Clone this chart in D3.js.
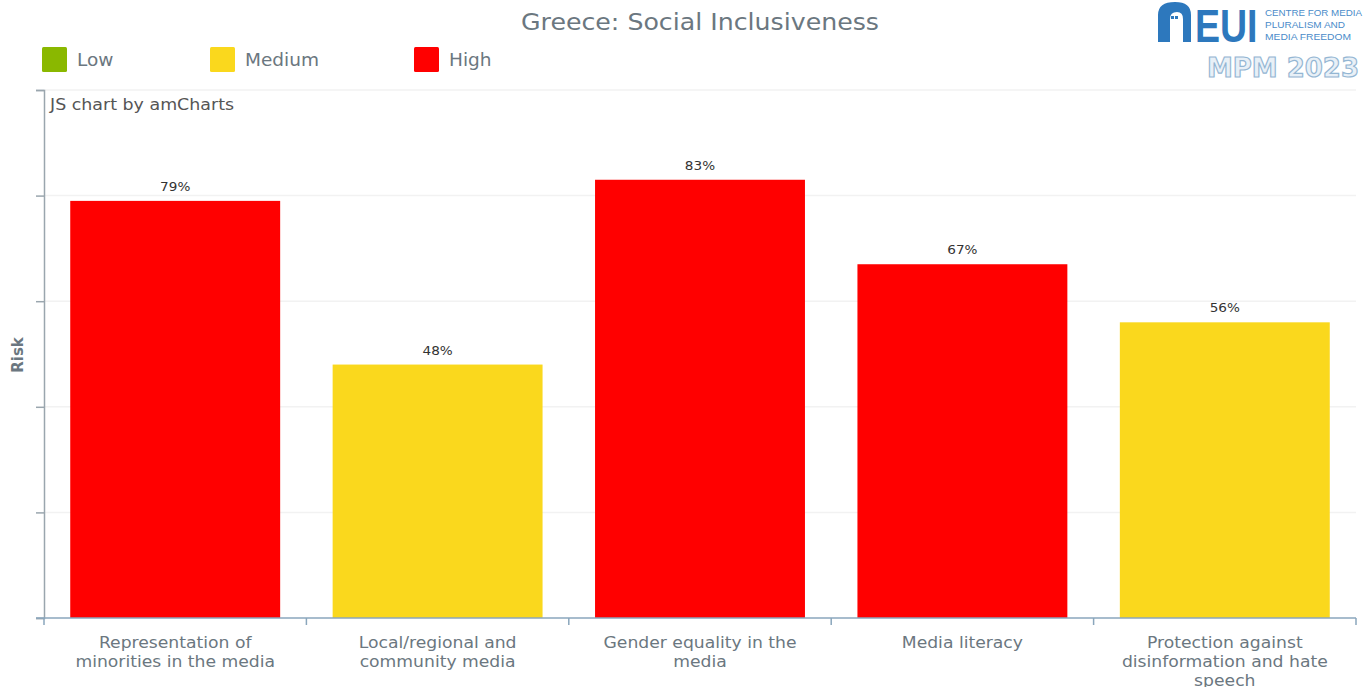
<!DOCTYPE html>
<html>
<head>
<meta charset="utf-8">
<script src="https://cdn.jsdelivr.net/npm/d3@7"></script>
<style>
  html, body { margin: 0; padding: 0; background: #fff; }
  svg { display: block; font-family: "DejaVu Sans", Verdana, sans-serif; }
</style>
</head>
<body>
<svg id="chart" width="1366" height="687"></svg>
<script>
// Indicator categories and their risk scores (%)
const categories = [
  "Representation of minorities in the media",
  "Local/regional and community media",
  "Gender equality in the media",
  "Media literacy",
  "Protection against disinformation and hate speech"
];
const riskValues = [79, 48, 83, 67, 56];
const riskLevels = ["High", "Medium", "High", "High", "Medium"];
const legendLevels = ["Low", "Medium", "High"];
const levelColors = ["#8ab800", "#fad81d", "#ff0000"];
const yTicks = [0, 20, 40, 60, 80, 100];
// Wrapped label lines for each category
const labelLines = [
  ["Representation of", "minorities in the media"],
  ["Local/regional and", "community media"],
  ["Gender equality in the", "media"],
  ["Media literacy"],
  ["Protection against", "disinformation and hate", "speech"]
];

const svg = d3.select("#chart");
const margin = { left: 44, right: 10, top: 90, bottom: 69 };
const W = 1366, H = 687;
const WIDE = 1.09; // horizontal widening so DejaVu reads like a wide humanist face

const color = d3.scaleOrdinal().domain(legendLevels).range(levelColors);

const x = d3.scaleBand()
  .domain(categories)
  .range([margin.left, W - margin.right])
  .paddingInner(0.2)
  .paddingOuter(0.1);

const y = d3.scaleLinear()
  .domain([0, 100])
  .range([H - margin.bottom, margin.top]);

// Places a text at (tx, ty) and scales it
function wideText(parent, tx, ty, sx, sy = 1) {
  return parent.append("g")
    .attr("transform", `translate(${tx},${ty})`)
    .append("text")
    .attr("transform", `scale(${sx},${sy})`);
}

// Title
wideText(svg, 700, 30, 1)
  .attr("text-anchor", "middle")
  .attr("font-size", 23)
  .attr("textLength", 358)
  .attr("lengthAdjust", "spacingAndGlyphs")
  .attr("fill", "#6b7780")
  .text("Greece: Social Inclusiveness");

// Legend
const legendX = [42, 210, 414];
legendLevels.forEach((lvl, i) => {
  svg.append("rect")
    .attr("x", legendX[i]).attr("y", 47)
    .attr("width", 25).attr("height", 25).attr("rx", 1.5)
    .attr("fill", color(lvl));
  wideText(svg, legendX[i] + 35, 66, WIDE)
    .attr("font-size", 17)
    .attr("fill", "#6b7780")
    .text(lvl);
});

// Horizontal gridlines
svg.append("g").selectAll("line")
  .data(yTicks.slice(1)).join("line")
  .attr("x1", margin.left).attr("x2", W - margin.right)
  .attr("y1", d => y(d)).attr("y2", d => y(d))
  .attr("stroke", "#f2f2f2").attr("stroke-width", 1.5);

// Y axis (no labels, outward ticks)
const yAxis = svg.append("g")
  .attr("transform", `translate(${margin.left},0)`)
  .call(d3.axisLeft(y).tickValues(yTicks).tickSize(8).tickFormat(""));
yAxis.select(".domain").attr("stroke", "#9aa6ae").attr("stroke-width", 1.5);
yAxis.selectAll(".tick line").attr("stroke", "#9aa6ae").attr("stroke-width", 1.5);

svg.append("text")
  .attr("transform", `translate(23,355) rotate(-90)`)
  .attr("text-anchor", "middle")
  .attr("font-size", 15)
  .attr("font-weight", "bold")
  .attr("fill", "#6b7780")
  .text("Risk");

wideText(svg, 50, 110, WIDE)
  .attr("font-size", 16)
  .attr("fill", "#555")
  .text("JS chart by amCharts");

// Bars
svg.append("g").selectAll("rect")
  .data(categories).join("rect")
  .attr("x", d => x(d))
  .attr("width", x.bandwidth())
  .attr("y", (d, i) => y(riskValues[i]))
  .attr("height", (d, i) => y(0) - y(riskValues[i]))
  .attr("fill", (d, i) => color(riskLevels[i]));

// Value labels
categories.forEach((c, i) => {
  wideText(svg, x(c) + x.bandwidth() / 2, y(riskValues[i]) - 10, WIDE)
    .attr("text-anchor", "middle")
    .attr("font-size", 12.5)
    .attr("fill", "#333")
    .text(riskValues[i] + "%");
});

// X axis with ticks at the category boundaries
const boundaries = categories.map(d => x(d) - x.step() * x.paddingInner() / 2)
  .concat([W - margin.right]);
boundaries[0] = margin.left;
const xAxis = svg.append("g");
xAxis.append("line")
  .attr("x1", margin.left - 8).attr("x2", W - margin.right)
  .attr("y1", y(0)).attr("y2", y(0))
  .attr("stroke", "#8aa6bc").attr("stroke-width", 1.5);
xAxis.selectAll(".bt")
  .data(boundaries).join("line")
  .attr("class", "bt")
  .attr("x1", d => d).attr("x2", d => d)
  .attr("y1", y(0)).attr("y2", y(0) + 7)
  .attr("stroke", "#8aa6bc").attr("stroke-width", 1.5);

// Category labels
categories.forEach((c, i) => {
  const t = wideText(svg, x(c) + x.bandwidth() / 2, y(0) + 30, 1.11)
    .attr("text-anchor", "middle")
    .attr("font-size", 15.5)
    .attr("fill", "#6b7780");
  t.selectAll("tspan")
    .data(labelLines[i]).join("tspan")
    .attr("x", 0)
    .attr("dy", (d, j) => j === 0 ? 0 : 19)
    .text(d => d);
});

// Logo
const logo = svg.append("g");
const blue = "#2d78bd";
logo.append("path")
  .attr("d", "M1158,42 L1158,15 Q1158,2 1175,2 Q1191,2 1191,15 L1191,42 L1183,42 L1183,19 Q1183,12 1177,12 Q1170,12 1170,19 L1170,42 Z")
  .attr("fill", blue);
logo.append("rect").attr("x", 1171).attr("y", 16).attr("width", 3).attr("height", 3).attr("fill", blue);
logo.append("rect").attr("x", 1175).attr("y", 16).attr("width", 3).attr("height", 3).attr("fill", blue);
wideText(logo, 1195, 42, 1, 1.25)
  .attr("font-family", "Liberation Sans, Arial, sans-serif")
  .attr("font-weight", "bold")
  .attr("font-size", 37.5)
  .attr("fill", blue)
  .text("EUI");
const smallLines = ["CENTRE FOR MEDIA", "PLURALISM AND", "MEDIA FREEDOM"];
logo.append("text")
  .attr("y", 16)
  .attr("font-family", "Liberation Sans, Arial, sans-serif")
  .attr("font-size", 8.5)
  .attr("fill", "#4a8bc9")
  .selectAll("tspan").data(smallLines).join("tspan")
  .attr("x", 1265)
  .attr("dy", (d, i) => i === 0 ? 0 : 12)
  .attr("textLength", (d, i) => [97, 80, 86][i])
  .attr("lengthAdjust", "spacingAndGlyphs")
  .text(d => d);
logo.append("text")
  .attr("x", 1359).attr("y", 77)
  .attr("text-anchor", "end")
  .attr("font-family", "DejaVu Sans, sans-serif")
  .attr("font-weight", "bold")
  .attr("font-size", 27)
  .attr("textLength", 152)
  .attr("lengthAdjust", "spacingAndGlyphs")
  .attr("fill", "#e8f0f7")
  .attr("stroke", "#94b6d3")
  .attr("stroke-width", 1.2)
  .text("MPM 2023");
</script>
</body>
</html>
